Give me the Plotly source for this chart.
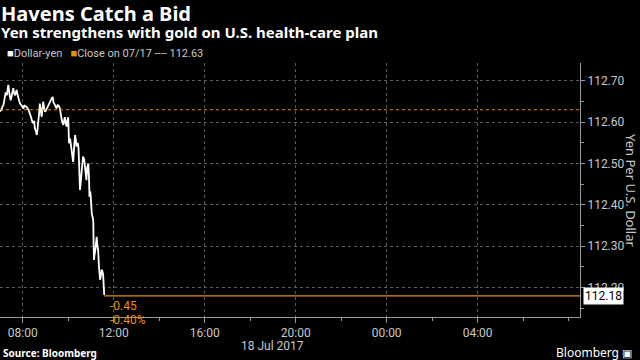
import plotly.graph_objects as go
import pandas as pd

# ---- data ----
minutes = [0, 2, 4, 6, 9, 12, 15, 18, 22, 25, 28, 31, 35, 37, 40, 42, 44, 46, 48, 51,
           53, 57, 60, 62, 64, 66, 70, 75, 79, 82, 84, 88, 90, 92, 95, 97, 99, 101, 103, 105,
           108, 110, 112, 114, 117, 119, 121, 125, 128, 132, 136, 139, 141, 145, 147, 149, 152, 155, 158, 160,
           163, 167, 169, 171, 174, 176, 178, 180, 182, 185, 187, 189, 191, 193, 196, 198, 200, 202, 205, 207,
           209, 211, 213, 215, 217, 219, 222, 224, 226, 228, 230, 233, 235, 236, 238, 239, 242, 244, 246, 247,
           248, 249, 251, 253, 255, 257, 259, 261, 263, 264, 266, 268, 270, 272, 273, 275]
dollar_yen = [112.625, 112.632, 112.628, 112.637, 112.641, 112.655, 112.672, 112.665, 112.690, 112.668,
              112.653, 112.664, 112.682, 112.671, 112.665, 112.672, 112.678, 112.668, 112.657, 112.650,
              112.645, 112.641, 112.636, 112.633, 112.641, 112.639, 112.637, 112.630, 112.621, 112.612,
              112.605, 112.597, 112.603, 112.585, 112.577, 112.569, 112.583, 112.597, 112.620, 112.645,
              112.625, 112.613, 112.632, 112.649, 112.630, 112.625, 112.628, 112.637, 112.641, 112.649,
              112.657, 112.661, 112.648, 112.641, 112.637, 112.633, 112.641, 112.640, 112.633, 112.617,
              112.605, 112.593, 112.600, 112.612, 112.595, 112.589, 112.605, 112.612, 112.549, 112.560,
              112.545, 112.529, 112.515, 112.504, 112.545, 112.569, 112.557, 112.541, 112.550, 112.540,
              112.490, 112.436, 112.455, 112.476, 112.500, 112.517, 112.510, 112.490, 112.478, 112.460,
              112.490, 112.500, 112.460, 112.420, 112.433, 112.425, 112.380, 112.372, 112.363, 112.300,
              112.267, 112.278, 112.287, 112.310, 112.323, 112.300, 112.290, 112.251, 112.235, 112.219,
              112.228, 112.243, 112.240, 112.232, 112.215, 112.182]
start_time = "2017-07-18 07:00"
end_time = "2017-07-19 08:30"
x_tick_times = ["2017-07-18 08:00", "2017-07-18 12:00", "2017-07-18 16:00",
                "2017-07-18 20:00", "2017-07-19 00:00", "2017-07-19 04:00"]
x_tick_labels = ["08:00", "12:00", "16:00", "20:00", "00:00", "04:00"]
prev_close = 112.63
last_value = 112.18
change_text = "-0.45"
change_pct_text = "-0.40%"
y_ticks = [112.20, 112.30, 112.40, 112.50, 112.60, 112.70]

times = pd.Timestamp(start_time) + pd.to_timedelta(minutes, unit="m")

ORANGE = "#e8900c"
GREY = "#c8c8c8"
GRID = "#5a5a5a"
NARROW = "Liberation Sans Narrow, Roboto, sans-serif"

fig = go.Figure()
fig.add_trace(go.Scatter(x=times, y=dollar_yen, mode="lines",
                         line=dict(color="white", width=1.8), hoverinfo="skip"))

fig.add_shape(type="line", xref="paper", x0=0, x1=1, yref="y", y0=prev_close, y1=prev_close,
              line=dict(color=ORANGE, width=1.2, dash="dot"))
fig.add_shape(type="line", xref="x", x0=times[-1], x1=end_time, yref="y", y0=last_value, y1=last_value,
              line=dict(color=ORANGE, width=1.2))

fig.add_annotation(x=times[-1], y=last_value, xref="x", yref="y", text=change_text,
                   showarrow=False, xanchor="left", yanchor="top", xshift=4, yshift=-1,
                   font=dict(color=ORANGE, size=12, family=NARROW))
fig.add_annotation(x=times[-1], y=last_value, xref="x", yref="y", text=change_pct_text,
                   showarrow=False, xanchor="left", yanchor="top", xshift=4, yshift=-15,
                   font=dict(color=ORANGE, size=12, family=NARROW))

fig.add_annotation(xref="paper", x=1, y=last_value, yref="y", text=f"{last_value:.2f}",
                   showarrow=False, xanchor="left", xshift=3, bgcolor="white", borderpad=1,
                   font=dict(color="black", size=12, family="Roboto, sans-serif"))

fig.update_layout(
    width=640, height=360,
    paper_bgcolor="black", plot_bgcolor="black",
    margin=dict(l=0, r=60, t=63, b=43),
    showlegend=False,
    font=dict(family="Roboto, sans-serif", color=GREY),
    xaxis=dict(range=[start_time, end_time], type="date",
               tickvals=x_tick_times, ticktext=x_tick_labels,
               showgrid=True, gridcolor=GRID, griddash="dot", gridwidth=1,
               showline=True, linecolor="#9a9a9a", linewidth=1,
               ticks="outside", ticklen=5, tickcolor="#9a9a9a",
               minor=dict(dtick=2 * 3600 * 1000, tick0="2017-07-18 00:00", ticks="outside",
                          ticklen=3, tickcolor="#9a9a9a", showgrid=False),
               tickfont=dict(size=12, color=GREY, family=NARROW),
               zeroline=False, fixedrange=True),
    yaxis=dict(range=[112.129, 112.743], side="right",
               tickvals=y_ticks, ticktext=[f"{v:.2f}" for v in y_ticks],
               showgrid=True, gridcolor=GRID, griddash="dot", gridwidth=1,
               showline=True, linecolor="#9a9a9a", linewidth=1,
               ticks="outside", ticklen=4, tickcolor="#9a9a9a",
               minor=dict(dtick=0.05, tick0=112.0, ticks="outside", ticklen=3, tickcolor="#9a9a9a", showgrid=False),
               tickfont=dict(size=12, color=GREY, family="Roboto, sans-serif"),
               zeroline=False, fixedrange=True),
)

fig.add_annotation(xref="paper", yref="paper", x=0, y=1, xanchor="left", yanchor="bottom",
                   xshift=0, yshift=20, borderpad=0, align="left",
                   text="<b><span style='font-size:20px'>Havens Catch a Bid</span><br>"
                        "<span style='font-size:15px'>Yen strengthens with gold on U.S. health-care plan</span></b>",
                   showarrow=False,
                   font=dict(size=13, color="white", family="Noto Sans, sans-serif"))
fig.add_annotation(xref="paper", yref="paper", x=0, y=1, xanchor="left", yanchor="bottom",
                   xshift=5, yshift=1,
                   text="<span style='color:white'>■</span>Dollar-yen   <span style='color:#e8900c'>■</span>Close on 07/17 ---- 112.63",
                   showarrow=False, font=dict(size=11, color=GREY, family=NARROW))
fig.add_annotation(xref="paper", yref="paper", x=1, y=0.5, xanchor="left", yanchor="middle",
                   xshift=40, text="Yen Per U.S. Dollar", textangle=90, showarrow=False,
                   font=dict(size=13, color=GREY, family="Noto Sans, sans-serif"))
fig.add_annotation(xref="paper", yref="paper", x=272 / 580, y=0, xanchor="center", yanchor="top",
                   yshift=-20, text="18 Jul 2017", showarrow=False,
                   font=dict(size=12, color=GREY, family=NARROW))
fig.add_annotation(xref="paper", yref="paper", x=0, y=0, xanchor="left", yanchor="top",
                   xshift=1, yshift=-27, text="<b>Source: Bloomberg</b>", showarrow=False,
                   font=dict(size=10, color="white", family="Noto Sans, sans-serif"))
fig.add_annotation(xref="paper", yref="paper", x=1, y=0, xanchor="right", yanchor="top",
                   xshift=54, yshift=-25, text="Bloomberg <span style='font-size:11px'>▣</span>", showarrow=False,
                   font=dict(size=12, color="white", family="Noto Sans, sans-serif"))

fig.write_html("out.html", config={"displayModeBar": False},
               post_script="document.body.style.margin='0';")
